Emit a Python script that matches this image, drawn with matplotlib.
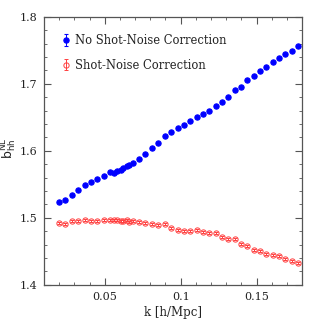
import numpy as np
import matplotlib
matplotlib.use('Agg')
import matplotlib.pyplot as plt
from matplotlib.ticker import MultipleLocator, FuncFormatter

k = [0.0199, 0.0241, 0.0284, 0.0327, 0.0368, 0.0410, 0.0452, 0.0495, 0.0535,
     0.0564, 0.0581, 0.0604, 0.0623, 0.0645, 0.0663, 0.0687, 0.0726, 0.0768,
     0.0810, 0.0853, 0.0896, 0.0939, 0.0980, 0.1021, 0.1063, 0.1105, 0.1146,
     0.1188, 0.1230, 0.1272, 0.1313, 0.1356, 0.1397, 0.1439, 0.1481, 0.1522,
     0.1564, 0.1606, 0.1648, 0.1689, 0.1734, 0.1775]

b_no_sn = [1.5243, 1.5269, 1.5348, 1.5413, 1.5485, 1.5537, 1.5579, 1.5631, 1.5679,
           1.5667, 1.5701, 1.5721, 1.5742, 1.5776, 1.5787, 1.5825, 1.5880, 1.5951,
           1.6040, 1.6115, 1.6224, 1.6284, 1.6343, 1.6393, 1.6443, 1.6504, 1.6549,
           1.6597, 1.6675, 1.6724, 1.6799, 1.6903, 1.6951, 1.7052, 1.7112, 1.7190,
           1.7246, 1.7325, 1.7393, 1.7445, 1.7493, 1.7567]

b_sn = [1.4930, 1.4913, 1.4951, 1.4960, 1.4963, 1.4958, 1.4951, 1.4963, 1.4970,
        1.4966, 1.4966, 1.4960, 1.4955, 1.4970, 1.4945, 1.4952, 1.4940, 1.4921,
        1.4906, 1.4896, 1.4903, 1.4854, 1.4821, 1.4809, 1.4801, 1.4813, 1.4787,
        1.4772, 1.4773, 1.4712, 1.4684, 1.4684, 1.4607, 1.4587, 1.4527, 1.4504,
        1.4460, 1.4440, 1.4437, 1.4388, 1.4355, 1.4325]

err = 0.0015

plt.rcParams['font.family'] = 'DejaVu Serif'
fig = plt.figure(figsize=(3.19, 3.19), dpi=100)
ax = fig.add_axes([0.138, 0.107, 0.809, 0.84])

ax.errorbar(k, b_no_sn, yerr=err, fmt='o', color='blue', ms=3.8, mew=0.8,
            elinewidth=0.7, capsize=1.3, label='No Shot-Noise Correction')
ax.errorbar(k, b_sn, yerr=err, fmt='o', color='#ff4040', mfc='none', ms=3.8,
            mew=0.7, elinewidth=0.7, capsize=1.3, label='Shot-Noise Correction')

ax.set_xlim(0.01, 0.18)
ax.set_ylim(1.4, 1.8)
ax.xaxis.set_major_locator(MultipleLocator(0.05))
ax.xaxis.set_minor_locator(MultipleLocator(0.01))
ax.yaxis.set_major_locator(MultipleLocator(0.1))
ax.yaxis.set_minor_locator(MultipleLocator(0.02))
ax.xaxis.set_major_formatter(FuncFormatter(lambda v, p: ('%.2f' % v).rstrip('0')))
ax.yaxis.set_major_formatter(FuncFormatter(lambda v, p: '%.1f' % v))
ax.tick_params(which='both', direction='in', top=True, right=True,
               labelsize=8, color='#555555', labelcolor='#222222')
ax.tick_params(which='major', length=5, width=0.8, pad=5)
ax.tick_params(which='minor', length=2.5, width=0.6)
for s in ax.spines.values():
    s.set_color('#555555')
    s.set_linewidth(0.9)

ax.set_xlabel('k [h/Mpc]', fontsize=8.5, labelpad=3, color='#222222')
# y label placed by hand so it stays inside the small canvas
fig.text(9 / 319, 1 - 148 / 319, r'$\mathrm{b_{hh}^{NL}}$', fontsize=9,
         rotation=90, ha='center', va='center', color='#222222')

leg = ax.legend(loc='upper left', fontsize=8.3, frameon=False, handlelength=0.8,
                handletextpad=0.4, borderaxespad=1.1, labelspacing=1.0)
for t in leg.get_texts():
    t.set_color('#222222')

fig.savefig('out.png', dpi=100)
